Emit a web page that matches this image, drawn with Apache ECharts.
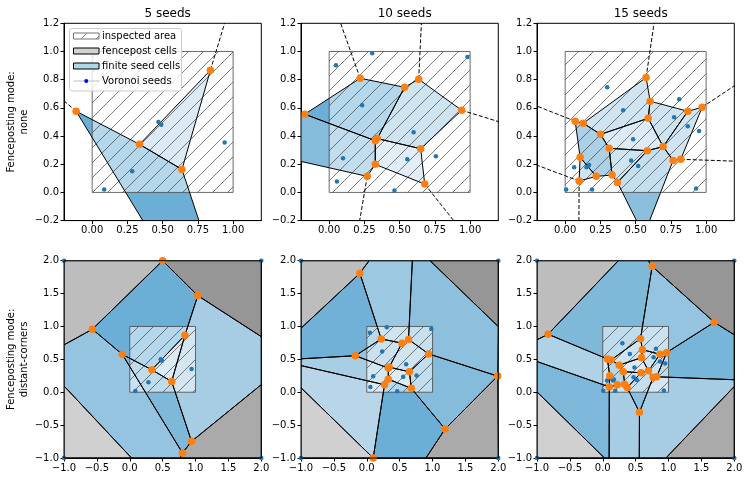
<!DOCTYPE html>
<html>
<head>
<meta charset="utf-8">
<script src="https://cdn.jsdelivr.net/npm/echarts@6/dist/echarts.min.js"></script>
<style>html,body{margin:0;padding:0;background:#fff}#chart{width:748px;height:482px}</style>
</head>
<body>
<div id="chart"></div>
<script>
// seeds, one set per column
var seeds5 = [[0.085,0.02],[0.284,0.15],[0.47,0.50],[0.49,0.48],[0.94,0.355]];
var seeds10 = [[0.048,0.903],[0.305,0.988],[0.981,0.960],[0.234,0.618],[0.599,0.427],
	[0.098,0.242],[0.554,0.235],[0.757,0.256],[0.055,0.078],[0.463,0.014]];
var seeds15 = [[0.007,0.021],[0.064,0.178],[0.151,0.178],[0.170,0.194],[0.191,0.021],
	[0.298,0.746],[0.411,0.583],[0.482,0.377],[0.468,0.227],[0.518,0.187],
	[0.773,0.533],[0.809,0.661],[0.870,0.469],[0.950,0.436],[0.929,0.028]];
var cornerSeeds = [[-1,2],[2,2],[-1,-1],[2,-1]];

// voronoi vertices and border crossings, by name
var pts5 = {
	V1:[-0.114,0.576], V2:[0.336,0.341], V3:[0.637,0.163], V4:[0.839,0.867],
	W1:[0.5,2.0], W2:[1.034,1.469], W3:[-0.568,0.958], W4:[0.939,-0.747], W5:[0.801,-0.923],
	L1:[-1,0.72], L2:[-1,0.095], B1:[0.027,-1], B2:[0.765,-1], R1:[2,0.845], R2:[2,0.115],
	C1:[-1,2], C2:[2,2], C3:[-1,-1], C4:[2,-1]
};
var pts10 = {
	u1:[-0.174,0.555], u2:[0.220,0.810], u3:[0.535,0.746], u4:[0.635,0.803], u5:[0.940,0.583],
	u6:[0.327,0.367], u7:[0.341,0.382], u8:[0.649,0.310], u9:[0.327,0.199], u10:[0.270,0.114], u11:[0.678,0.059],
	X1:[-0.4,0.265], X2:[-0.4,0.597],
	P1:[-0.105,1.808], P12:[1.99,0.245], P13:[1.191,-0.559], P14:[0.098,-1],
	T1:[0.035,2], T2:[0.693,2], T3:[0.962,2], L3:[-1,0.973], L4:[-1,0.508], L5:[-1,0.405], L6:[-1,0.068],
	R3:[2,0.998], B3:[0.9,-1],
	C1:[-1,2], C2:[2,2], C3:[-1,-1], C4:[2,-1]
};
var pts15 = {
	v1:[0.071,0.505], v2:[0.128,0.491], v3:[0.251,0.412], v4:[0.574,0.815], v5:[0.603,0.647],
	v6:[0.589,0.526], v7:[0.870,0.576], v8:[0.972,0.604], v9:[0.312,0.313], v10:[0.582,0.296],
	v11:[0.695,0.325], v12:[0.766,0.227], v13:[0.820,0.235], v14:[0.106,0.249], v15:[0.220,0.114],
	v16:[0.333,0.123], v17:[0.371,0.071], v18:[0.099,0.081],
	Q1:[0.751,1.914], Q2:[1.695,1.064], Q3:[-0.832,0.882], Q4:[0.558,-0.305],
	T4:[0.237,2], T5:[0.69,2], L7:[-1,0.797], L8:[-1,0.467], L9:[-1,0.005],
	R4:[2,0.873], R5:[2,0.19], R6:[2,0.088], B4:[0.025,-1], B7:[0.097,-1], B5:[0.555,-1], B6:[0.96,-1],
	C1:[-1,2], C2:[2,2], C3:[-1,-1], C4:[2,-1]
};

// finite seed cells and their value on the Blues scale
var cells5top = [['V2','V4','V3'],['V1','V2','V3','W4','W5']];
var shade5top = [0.3,0.5];
var cells5bot = [['W1','W2','V4','V2','V1','W3'],['W2','R1','R2','W4','V3','V4'],['V2','V4','V3'],
	['V1','V2','V3','W4','W5'],['L1','W3','V1','W5','B2','B1','L2']];
var shade5bot = [0.5,0.35,0.3,0.45,0.4];

var cells10top = [['u1','u2','u3','u7','u6'],['u3','u4','u5','u8','u7'],['u7','u8','u11','u9','u6'],
	['u1','u6','u9','u10','X1','X2']];
var shade10top = [0.5,0.38,0.26,0.436];
var cells10bot = [['L3','P1','u2','u1','L4'],['P1','T1','T2','u4','u3','u2'],['T2','T3','R3','P12','u5','u4'],
	['u1','u2','u3','u7','u6'],['u3','u4','u5','u8','u7'],['L4','u1','u6','u9','u10','L5'],
	['u7','u8','u11','u9','u6'],['u8','u5','P12','P13','u11'],['L5','u10','P14','L6'],
	['u10','u9','u11','P13','B3','P14']];
var shade10bot = [0.485,0.38,0.42,0.4,0.37,0.345,0.29,0.436,0.294,0.5];

var cells15top = [['v14','v1','v2','v3','v9','v16','v15'],['v14','v15','v18'],['v2','v4','v5','v6','v3'],
	['v3','v6','v11','v10','v9'],['v5','v7','v11','v6'],['v7','v8','v13','v12','v11'],
	['v9','v10','v17','v16'],['v10','v11','v12','Q4','v17']];
var shade15top = [0.555,0.38,0.37,0.29,0.38,0.37,0.38,0.422];
var cells15bot = cells15top.concat([['T4','T5','Q1','v4','v2','v1','Q3'],['Q1','Q2','v8','v7','v5','v4'],
	['Q2','R4','R5','v13','v8'],['L7','Q3','v1','v14','v18','L8'],['L8','v18','B7','B4','L9'],
	['v18','v15','v16','v17','Q4','B5','B7'],['v12','v13','R5','R6','B6','B5','Q4']]);
var shade15bot = [0.5,0.38,0.38,0.29,0.38,0.38,0.38,0.422,0.451,0.4,0.47,0.319,0.455,0.35,0.35];

// fencepost (corner) cells, Greys scale
var fence5 = [['C1','W1','W3','L1'],['W1','C2','R1','W2'],['L2','C3','B1'],['R2','C4','B2','W5','W4']];
var fence10 = [['C1','T1','P1','L3'],['T3','C2','R3'],['L6','C3','P14'],['P12','C4','B3','P13']];
var fence15 = [['C1','T4','Q3','L7'],['T5','C2','R4','Q2','Q1'],['L9','C3','B4'],['R6','C4','B6']];
var fenceShade = [0.375,0.5,0.29,0.436];

// vertices drawn as orange dots
var verts5top = ['V1','V2','V3','V4'];
var verts5bot = ['W1','W2','W3','V1','V2','V3','V4','W4','W5'];
var verts10top = ['u1','u2','u3','u4','u5','u6','u7','u8','u9','u10','u11'];
var verts10bot = verts10top.concat(['P1','P12','P13','P14']);
var verts15top = ['v1','v2','v3','v4','v5','v6','v7','v8','v9','v10','v11','v12','v13','v14','v15','v16','v17','v18'];
var verts15bot = verts15top.concat(['Q1','Q2','Q3','Q4']);

// infinite ridges (dashed), top row only
var rays5 = [[[0.839,0.867],[1.03,1.5]],[[-0.114,0.576],[-0.3,0.736]]];
var rays10 = [[[0.220,0.810],[0.010,1.4]],[[0.635,0.803],[0.664,1.4]],[[0.940,0.583],[1.4,0.441]],
	[[0.270,0.114],[0.182,-0.4]],[[0.678,0.059],[1.042,-0.4]]];
var rays15 = [[[0.574,0.815],[0.66,1.4]],[[0.972,0.604],[1.4,0.89]],[[0.820,0.235],[1.4,0.215]],
	[[0.071,0.505],[-0.4,0.692]],[[0.099,0.081],[-0.4,0.268]],[[0.099,0.081],[0.096,-0.4]]];

var titles = ['5 seeds','10 seeds','15 seeds'];
var topXTicks = [0,0.25,0.5,0.75,1];
var inspected = [[0,1],[1,0]];

var FONT = 'DejaVu Sans';
var BLUES = [[247,251,255],[222,235,247],[198,219,239],[158,202,225],[107,174,214],[66,146,198],[33,113,181],[8,81,156],[8,48,107]];
var GREYS = [[255,255,255],[240,240,240],[217,217,217],[189,189,189],[150,150,150],[115,115,115],[82,82,82],[37,37,37],[0,0,0]];
function cmap(stops,t){
	var f=t*(stops.length-1),i=Math.min(Math.floor(f),stops.length-2),r=f-i;
	var c=[0,1,2].map(function(k){return Math.round(stops[i][k]+(stops[i+1][k]-stops[i][k])*r);});
	return 'rgb('+c.join(',')+')';
}
function fmt(v,d){ return v.toFixed(d).replace('-','\u2212'); }

// hatch texture for the inspected area
var hatch=(function(){
	var c=document.createElement('canvas');c.width=15;c.height=15;
	var g=c.getContext('2d');g.strokeStyle='rgba(40,40,40,0.6)';g.lineWidth=1;
	g.beginPath();g.moveTo(0,15);g.lineTo(15,0);g.moveTo(-1,1);g.lineTo(1,-1);g.moveTo(14,16);g.lineTo(16,14);g.stroke();
	return c;
})();

var panels = [
	{seeds:seeds5,pts:pts5,cells:cells5top,shade:shade5top,fence:[],verts:verts5top,rays:rays5,bottom:false},
	{seeds:seeds10,pts:pts10,cells:cells10top,shade:shade10top,fence:[],verts:verts10top,rays:rays10,bottom:false},
	{seeds:seeds15,pts:pts15,cells:cells15top,shade:shade15top,fence:[],verts:verts15top,rays:rays15,bottom:false},
	{seeds:seeds5,pts:pts5,cells:cells5bot,shade:shade5bot,fence:fence5,verts:verts5bot,rays:[],bottom:true},
	{seeds:seeds10,pts:pts10,cells:cells10bot,shade:shade10bot,fence:fence10,verts:verts10bot,rays:[],bottom:true},
	{seeds:seeds15,pts:pts15,cells:cells15bot,shade:shade15bot,fence:fence15,verts:verts15bot,rays:[],bottom:true}
];

var lefts=[64,301,537],tops=[23.3,260.7],SIZE=197.3;
var grids=[],xAxes=[],yAxes=[],series=[];
var labelStyle={fontSize:10,color:'#000',fontFamily:FONT};

panels.forEach(function(p,i){
	var col=i%3,row=i<3?0:1;
	grids.push({left:lefts[col],top:tops[row],width:SIZE,height:SIZE});
	var lo=p.bottom?-1:-0.2,hi=p.bottom?2:1.2;
	var xa={gridIndex:i,type:'value',min:lo,max:hi,splitLine:{show:false},
		axisLine:{show:true,onZero:false,lineStyle:{color:'#000',width:1}},
		axisTick:{show:true,length:3.5,lineStyle:{color:'#000'}},
		axisLabel:Object.assign({margin:5,showMinLabel:true,showMaxLabel:true},labelStyle)};
	if(p.bottom){
		xa.interval=0.5;
		xa.axisLabel.formatter=function(v){return fmt(v,1);};
	}else{
		xa.axisTick.customValues=topXTicks;
		xa.axisLabel.customValues=topXTicks;
		xa.axisLabel.formatter=function(v){return fmt(v,2);};
	}
	xAxes.push(xa);
	var ya={gridIndex:i,type:'value',min:lo,max:hi,interval:p.bottom?0.5:0.2,splitLine:{show:false},
		axisLine:{show:true,onZero:false,lineStyle:{color:'#000',width:1}},
		axisTick:{show:true,length:3.5,lineStyle:{color:'#000'}},
		axisLabel:Object.assign({margin:5,showMinLabel:true,showMaxLabel:true,formatter:function(v){return fmt(v,1);}},labelStyle)};
	if(col==0){
		ya.name=p.bottom?'Fenceposting mode:\ndistant-corners':'Fenceposting mode:\nnone';
		ya.nameLocation='middle';ya.nameRotate=90;ya.nameGap=33;
		ya.nameTextStyle={fontSize:10,color:'#000',fontFamily:FONT,lineHeight:13,align:'center'};
	}
	yAxes.push(ya);

	// all filled polygons: fence cells (grey) then seed cells (blue)
	var polys=[];
	p.fence.forEach(function(c,k){polys.push({names:c,fill:cmap(GREYS,fenceShade[k])});});
	p.cells.forEach(function(c,k){polys.push({names:c,fill:cmap(BLUES,p.shade[k])});});
	var pts=p.pts;
	function shapeOf(names,api){return names.map(function(n){return api.coord(pts[n]);});}
	series.push({type:'custom',xAxisIndex:i,yAxisIndex:i,clip:true,silent:true,z:1,
		data:polys.map(function(){return [0,0];}),
		renderItem:function(params,api){
			return {type:'polygon',shape:{points:shapeOf(polys[params.dataIndex].names,api)},
				style:{fill:polys[params.dataIndex].fill,stroke:null}};
		}});
	// inspected area overlay
	series.push({type:'custom',xAxisIndex:i,yAxisIndex:i,clip:true,silent:true,z:2,data:[[0,0]],
		renderItem:function(params,api){
			var a=api.coord(inspected[0]),b=api.coord(inspected[1]);
			var r={x:a[0],y:a[1],width:b[0]-a[0],height:b[1]-a[1]};
			return {type:'group',children:[
				{type:'rect',shape:r,style:{fill:'rgba(255,255,255,0.5)'}},
				{type:'rect',shape:r,style:{fill:{image:hatch,repeat:'repeat'}}},
				{type:'rect',shape:r,style:{fill:null,stroke:'rgba(70,70,70,0.8)',lineWidth:1}}
			]};
		}});
	// cell edges
	series.push({type:'custom',xAxisIndex:i,yAxisIndex:i,clip:true,silent:true,z:3,
		data:polys.map(function(){return [0,0];}),
		renderItem:function(params,api){
			return {type:'polygon',shape:{points:shapeOf(polys[params.dataIndex].names,api)},
				style:{fill:null,stroke:'#000',lineWidth:1}};
		}});
	if(p.rays.length){
		var rays=p.rays;
		series.push({type:'custom',xAxisIndex:i,yAxisIndex:i,clip:true,silent:true,z:3,
			data:rays.map(function(){return [0,0];}),
			renderItem:function(params,api){
				var r=rays[params.dataIndex],a=api.coord(r[0]),b=api.coord(r[1]);
				return {type:'line',shape:{x1:a[0],y1:a[1],x2:b[0],y2:b[1]},
					style:{stroke:'#000',lineWidth:1,lineDash:[4,2]}};
			}});
	}
	series.push({type:'scatter',xAxisIndex:i,yAxisIndex:i,z:4,symbolSize:4.5,silent:true,
		itemStyle:{color:'#1f77b4',opacity:1},
		data:p.bottom?p.seeds.concat(cornerSeeds):p.seeds});
	series.push({type:'scatter',xAxisIndex:i,yAxisIndex:i,z:5,symbolSize:7.5,silent:true,
		itemStyle:{color:'#ff7f0e',opacity:1},
		data:p.verts.map(function(n){return pts[n];})});
	// axes frame
	series.push({type:'custom',xAxisIndex:i,yAxisIndex:i,clip:false,silent:true,z:6,data:[[0,0]],
		renderItem:function(params){
			var cs=params.coordSys;
			return {type:'rect',shape:{x:cs.x,y:cs.y,width:cs.width,height:cs.height},
				style:{fill:null,stroke:'#000',lineWidth:1}};
		}});
});

var titleList=titles.map(function(t,k){
	return {text:t,left:lefts[k]+SIZE/2,top:3,textAlign:'center',
		textStyle:{fontSize:12,fontWeight:'normal',color:'#000',fontFamily:FONT}};
});

// legend of the first panel
var lx=73.5,legendRows=[36,51,66,81];
var textStyle={font:'10px "DejaVu Sans"',fill:'#000',textVerticalAlign:'middle'};
var graphic=[
	{type:'rect',z:100,shape:{x:69.5,y:28.5,width:112,height:62.5,r:2.5},style:{fill:'rgba(255,255,255,0.8)',stroke:'#cccccc',lineWidth:1}},
	{type:'rect',z:101,shape:{x:lx,y:legendRows[0]-3,width:25.5,height:6},style:{fill:'#fff'}},
	{type:'rect',z:101,shape:{x:lx,y:legendRows[0]-3,width:25.5,height:6},style:{fill:{image:hatch,repeat:'repeat'},stroke:'#777',lineWidth:1}},
	{type:'rect',z:101,shape:{x:lx,y:legendRows[1]-3,width:25.5,height:6},style:{fill:'#d3d3d3',stroke:'#000',lineWidth:1}},
	{type:'rect',z:101,shape:{x:lx,y:legendRows[2]-3,width:25.5,height:6},style:{fill:'#add8e6',stroke:'#000',lineWidth:1}},
	{type:'line',z:101,shape:{x1:lx,y1:legendRows[3],x2:lx+25.5,y2:legendRows[3]},style:{stroke:'rgba(190,190,190,0.5)',lineWidth:2}},
	{type:'circle',z:102,shape:{cx:lx+12.75,cy:legendRows[3],r:2},style:{fill:'#0000ff'}}
];
['inspected area','fencepost cells','finite seed cells','Voronoi seeds'].forEach(function(t,k){
	graphic.push({type:'text',z:102,x:102,y:legendRows[k],style:Object.assign({text:t},textStyle)});
});

var chart=echarts.init(document.getElementById('chart'),null,{renderer:'canvas'});
chart.setOption({
	animation:false,
	backgroundColor:'#fff',
	textStyle:{fontFamily:FONT},
	title:titleList,
	grid:grids,
	xAxis:xAxes,
	yAxis:yAxes,
	series:series,
	graphic:graphic
});
</script>
</body>
</html>
